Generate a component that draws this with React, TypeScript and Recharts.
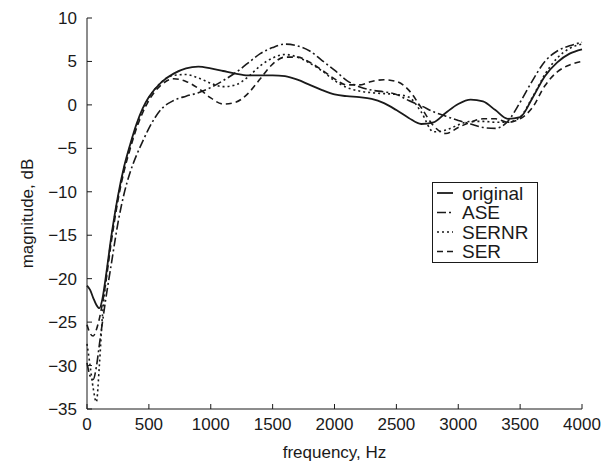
import { LineChart, Line, XAxis, YAxis, Legend } from 'recharts'

const freqHz = [
  0, 25, 50, 75, 100, 125, 150, 200, 250, 300, 350, 400, 450, 500,
  600, 700, 800, 900, 1000, 1100, 1200, 1300, 1400, 1500, 1600, 1700, 1800, 1900,
  2000, 2100, 2200, 2300, 2400, 2500, 2600, 2700, 2800, 2900, 3000, 3100, 3200,
  3300, 3400, 3500, 3600, 3700, 3800, 3900, 4000,
]

const originalDb = [
  -20.8, -21.3, -22.2, -23.0, -23.4, -22.3, -20.0, -14.8, -10.5, -7.1, -4.5, -2.2, -0.4, 0.9,
  2.6, 3.6, 4.2, 4.4, 4.2, 3.9, 3.6, 3.4, 3.4, 3.4, 3.3, 2.9, 2.3, 1.7,
  1.2, 1.0, 0.9, 0.7, 0.2, -0.6, -1.5, -2.2, -2.0, -0.9, 0.1, 0.6, 0.4,
  -0.6, -1.6, -1.4, 0.8, 3.3, 4.9, 5.9, 6.4,
]

const aseDb = [
  -29.7, -31.2, -31.6, -30.2, -27.6, -25.0, -22.5, -18.0, -13.6, -10.2, -7.7, -5.8, -4.2, -2.7,
  -0.5, 0.5, 1.0, 1.4, 2.0, 2.8, 3.7, 4.8, 5.9, 6.6, 7.0, 6.8, 6.2, 5.1,
  4.0, 2.8, 2.1, 1.7, 1.5, 1.2, 0.5, -0.1, -0.8, -1.3, -1.8, -2.2, -2.6,
  -2.7, -1.9, 0.3, 2.8, 5.0, 6.2, 6.8, 7.2,
]

const sernrDb = [
  -27.5, -30.0, -32.6, -34.2, -30.0, -24.2, -20.6, -15.0, -10.7, -7.3, -4.7, -2.4, -0.6, 0.8,
  2.6, 3.4, 3.5, 3.1, 2.5, 2.1, 2.3, 3.2, 4.5, 5.4, 5.8, 5.5, 4.8, 3.9,
  2.8, 2.0, 1.6, 1.4, 1.3, 1.2, 0.9, -0.8, -3.1, -2.9, -2.3, -1.9, -1.9,
  -2.0, -2.0, -1.4, 0.9, 3.5, 5.4, 6.5, 7.0,
]

const serDb = [
  -25.3, -26.3, -26.6, -25.9, -24.6, -22.8, -20.6, -15.4, -11.0, -7.6, -5.0, -2.7, -0.9, 0.5,
  2.3, 3.0, 2.7, 1.9, 0.8, 0.1, 0.3, 1.3, 3.0, 4.7, 5.5, 5.5, 4.9, 4.0,
  3.0, 2.3, 2.3, 2.7, 2.9, 2.7, 1.7, -0.3, -2.4, -3.3, -2.6, -2.0, -1.6,
  -1.6, -2.0, -1.6, -0.3, 2.2, 3.8, 4.6, 5.0,
]

const xTicks = [0, 500, 1000, 1500, 2000, 2500, 3000, 3500, 4000]
const yTicks = [-35, -30, -25, -20, -15, -10, -5, 0, 5, 10]

const series = [
  { key: 'original', name: 'original', dash: undefined, width: 1.8 },
  { key: 'ase', name: 'ASE', dash: '9 3 2 3', width: 1.6 },
  { key: 'sernr', name: 'SERNR', dash: '2 3', width: 1.6 },
  { key: 'ser', name: 'SER', dash: '6 4', width: 1.6 },
]

const data = freqHz.map((f, i) => ({
  f,
  original: originalDb[i],
  ase: aseDb[i],
  sernr: sernrDb[i],
  ser: serDb[i],
}))

const ink = '#1a1a1a'
const font = '"Liberation Sans", Arial, Helvetica, sans-serif'
const fmt = (v: number) => (v < 0 ? '\u2212' + Math.abs(v) : String(v))

function LegendBox() {
  return (
    <svg width={107} height={82} style={{ display: 'block' }}>
      <rect x={0.5} y={0.5} width={105} height={80} fill="#fff" stroke={ink} strokeWidth={1} />
      {series.map((s, i) => (
        <g key={s.key}>
          <line
            x1={5}
            x2={21}
            y1={11 + i * 19.5}
            y2={11 + i * 19.5}
            stroke={ink}
            strokeWidth={s.width}
            strokeDasharray={s.dash}
          />
          <text x={30} y={11 + i * 19.5} dy="0.35em" fontSize={19} fontFamily={font} fill={ink}>
            {s.name}
          </text>
        </g>
      ))}
    </svg>
  )
}

export default function App() {
  return (
    <div style={{ position: 'absolute', left: 0, top: 0, background: '#fff', fontFamily: font }}>
      <LineChart width={611} height={466} data={data} margin={{ top: 18, right: 29, left: 0, bottom: 27 }}>
        <XAxis
          dataKey="f"
          type="number"
          domain={[0, 4000]}
          ticks={xTicks}
          height={30}
          stroke={ink}
          tickSize={-5}
          tickMargin={14}
          tick={{ fontSize: 17, fill: ink, fontFamily: font }}
          label={{ value: 'frequency, Hz', position: 'center', dy: 28, fontSize: 17, fill: ink, fontFamily: font }}
        />
        <YAxis
          type="number"
          domain={[-35, 10]}
          ticks={yTicks}
          allowDataOverflow
          width={87}
          stroke={ink}
          tickSize={-5}
          tickMargin={15}
          tickFormatter={fmt}
          tick={{ fontSize: 17, fill: ink, fontFamily: font }}
          label={{ value: 'magnitude, dB', angle: -90, position: 'center', dx: -17, fontSize: 17, fill: ink, fontFamily: font }}
        />
        <Legend
          layout="horizontal"
          verticalAlign="middle"
          align="center"
          wrapperStyle={{ left: 432, top: 182, width: 107, height: 82 }}
          content={() => <LegendBox />}
        />
        {series.map((s) => (
          <Line
            key={s.key}
            dataKey={s.key}
            name={s.name}
            type="monotone"
            stroke={ink}
            strokeWidth={s.width}
            strokeDasharray={s.dash}
            dot={false}
            activeDot={false}
            isAnimationActive={false}
          />
        ))}
      </LineChart>
    </div>
  )
}
